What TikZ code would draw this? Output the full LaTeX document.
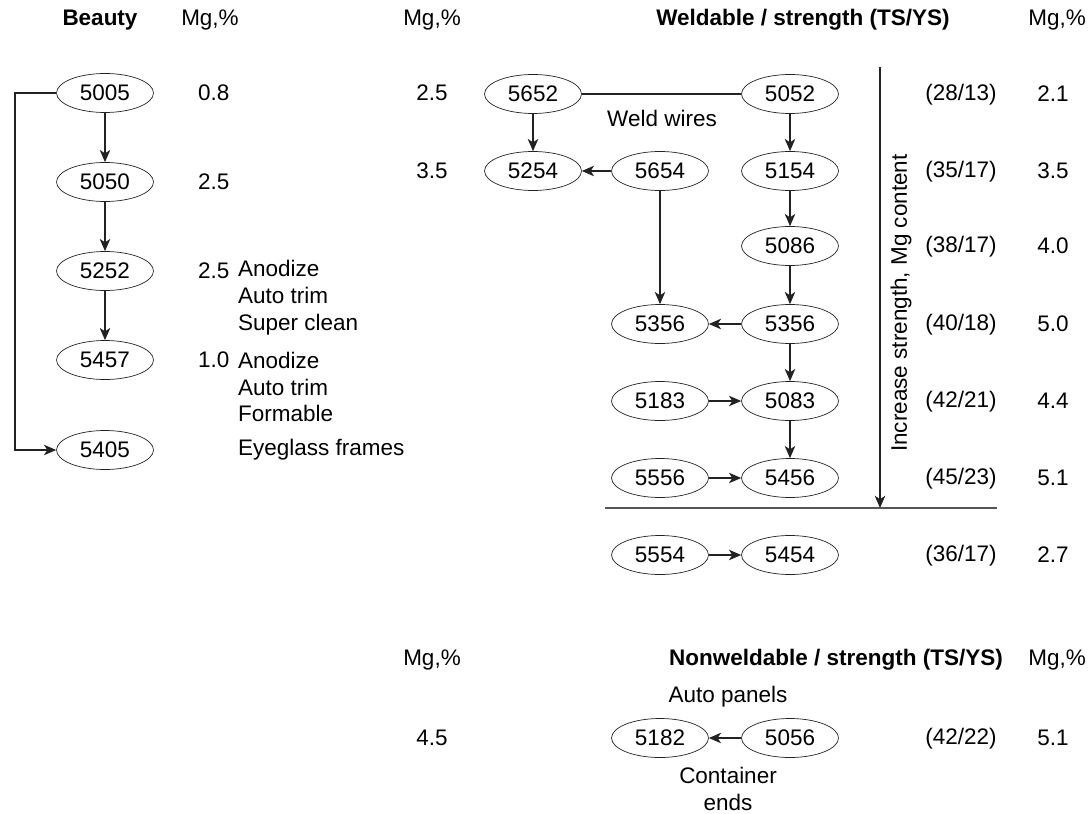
\documentclass[tikz,border=0pt]{standalone}
\usepackage{fontspec}
\setmainfont{Liberation Sans}
\usetikzlibrary{shapes.geometric, arrows.meta}
\definecolor{line-grey}{HTML}{222222}
\definecolor{rule-grey}{HTML}{555555}

\begin{document}
\begin{tikzpicture}[x=0.02cm, y=-0.02cm,
      every node/.style={font=\fontsize{12.8}{15.3}\selectfont, inner sep=1pt},
      alloy/.style={draw=line-grey, ellipse, minimum width=1.94cm,
                    minimum height=0.78cm, inner sep=0pt},
      ratio/.style={text height=0.72em, text depth=0pt},
      link/.style={draw=line-grey, line width=0.6pt,
                   -{Stealth[length=7pt, width=6pt, inset=2pt]}}]
    \useasboundingbox (0,0) rectangle (1088,814);

    % headers
    \node (hBeauty) at (100,20) {\textbf{Beauty}};
    \node (hMgA) at (210,20) {Mg,\%};
    \node (hMgB) at (432,20) {Mg,\%};
    \node (hWeld) at (803,20) {\textbf{Weldable / strength (TS/YS)}};
    \node (hMgC) at (1057,20) {Mg,\%};

    % beauty column
    \node[alloy] (a5005) at (105,93) {5005};
    \node[alloy] (a5050) at (105,182) {5050};
    \node[alloy] (a5252) at (105,271) {5252};
    \node[alloy] (a5457) at (105,360) {5457};
    \node[alloy] (a5405) at (105,450) {5405};
    \node[anchor=west] (mA) at (196,93) {0.8};
    \node[anchor=west] (mB) at (196,182) {2.5};
    \node[anchor=west] (mC) at (196,271) {2.5};
    \node[anchor=west] (mD) at (196,360) {1.0};
    \node[anchor=west, align=left] (uC) at (236,298)
          {Anodize\\Auto trim\\Super clean};
    \node[anchor=west, align=left] (uD) at (236,387)
          {Anodize\\Auto trim\\Formable};
    \node[anchor=west] (uE) at (236,450) {Eyeglass frames};
    \draw[link] (a5005) -- (a5050);
    \draw[link] (a5050) -- (a5252);
    \draw[link] (a5252) -- (a5457);
    \draw[link] (a5005.west) -- (15,93) |- (a5405.west);

    % weldable group
    \node (wA) at (432,93) {2.5};
    \node (wB) at (432,171) {3.5};
    \node[alloy] (a5652) at (533,94) {5652};
    \node[alloy] (a5052) at (790,94) {5052};
    \node[alloy] (a5254) at (533,171) {5254};
    \node[alloy] (a5654) at (660,171) {5654};
    \node[alloy] (a5154) at (790,171) {5154};
    \node[alloy] (a5086) at (790,246) {5086};
    \node[alloy] (a5356l) at (660,324) {5356};
    \node[alloy] (a5356r) at (790,324) {5356};
    \node[alloy] (a5183) at (660,401) {5183};
    \node[alloy] (a5083) at (790,401) {5083};
    \node[alloy] (a5556) at (660,478) {5556};
    \node[alloy] (a5456) at (790,478) {5456};
    \node[alloy] (a5554) at (660,555) {5554};
    \node[alloy] (a5454) at (790,555) {5454};
    \node (weld) at (662,118) {Weld wires};

    \draw[draw=line-grey, line width=0.6pt] (a5652) -- (a5052);
    \draw[link] (a5652) -- (a5254);
    \draw[link] (a5654) -- (a5254);
    \draw[link] (a5654) -- (a5356l);
    \draw[link] (a5052) -- (a5154);
    \draw[link] (a5154) -- (a5086);
    \draw[link] (a5086) -- (a5356r);
    \draw[link] (a5356r) -- (a5356l);
    \draw[link] (a5356r) -- (a5083);
    \draw[link] (a5183) -- (a5083);
    \draw[link] (a5083) -- (a5456);
    \draw[link] (a5556) -- (a5456);
    \draw[link] (a5554) -- (a5454);

    \coordinate (incTop) at (880,67);
    \coordinate (incEnd) at (880,508);
    \coordinate (ruleL) at (605,508);
    \coordinate (ruleR) at (997,508);
    \draw[link] (incTop) -- (incEnd);
    \draw[draw=rule-grey, line width=0.8pt] (ruleL) -- (ruleR);
    \node[rotate=90] (inc) at (901,303) {Increase strength, Mg content};

    \foreach \ts/\mg/\y [count=\i] in {{(28/13)}/2.1/94, {(35/17)}/3.5/171,
        {(38/17)}/4.0/246, {(40/18)}/5.0/324, {(42/21)}/4.4/401,
        {(45/23)}/5.1/478, {(36/17)}/2.7/555} {
      \node[ratio] (ts\i) at (961,\y) {\ts};
      \node (mg\i) at (1053,\y) {\mg};
    }

    % nonweldable group
    \node (hMgD) at (432,660) {Mg,\%};
    \node (hNon) at (836,660) {\textbf{Nonweldable / strength (TS/YS)}};
    \node (hMgE) at (1057,660) {Mg,\%};
    \node (nA) at (432,738) {4.5};
    \node[alloy] (a5182) at (660,738) {5182};
    \node[alloy] (a5056) at (790,738) {5056};
    \node (panels) at (728,697) {Auto panels};
    \node[align=center] (ends) at (728,789) {Container\\ends};
    \node[ratio] (tsN) at (961,738) {(42/22)};
    \node (mgN) at (1053,738) {5.1};
    \draw[link] (a5056) -- (a5182);
  \end{tikzpicture}
\end{document}
